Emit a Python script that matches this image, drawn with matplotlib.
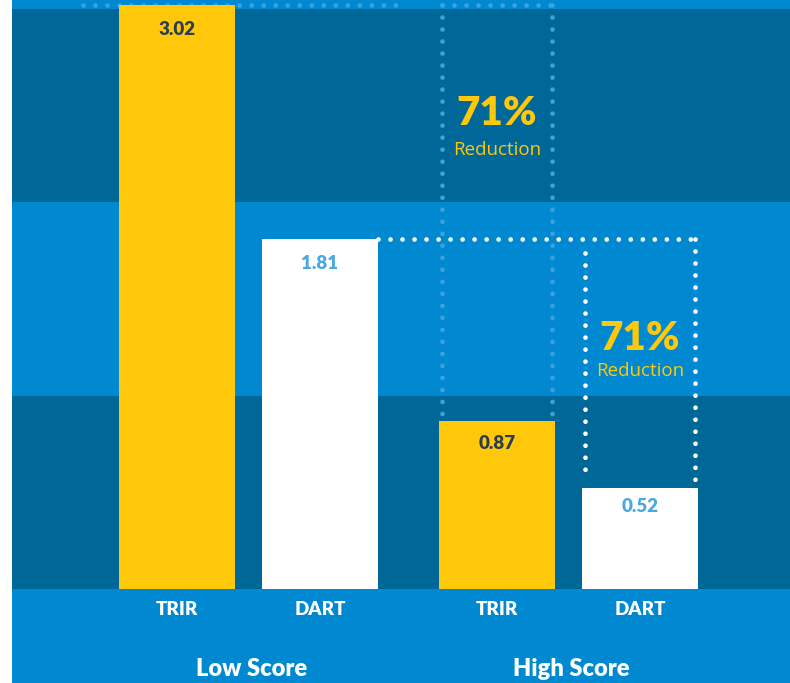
import matplotlib
matplotlib.use("Agg")
import matplotlib.pyplot as plt
from matplotlib import font_manager

# ---- data ----
groups = ["Low Score", "High Score"]
series = ["TRIR", "DART"]
low_vals = [3.02, 1.81]
high_vals = [0.87, 0.52]
value_labels = ["3.02", "1.81", "0.87", "0.52"]
reduction_text = "71%"
reduction_sub = "Reduction"

# ---- style ----
LIGHT = "#0089D0"
DARK = "#006899"
GOLD = "#FFC80B"
WHITE = "#FFFFFF"
TXT_DARK = "#2F3D4A"
TXT_BLUE = "#4AA8E0"
DOT_BLUE = "#3FA0DC"
label_offsets_px = [24, 24, 22.5, 18]

plt.rcParams['font.family'] = ['Lato', 'DejaVu Sans']
plt.rcParams['lines.scale_dashes'] = False

lato = sorted({(f.name, f.weight) for f in font_manager.fontManager.ttflist if 'Lato' in f.name})
print(lato)

fig = plt.figure(figsize=(7.9, 6.83), dpi=100, facecolor="white")
ax = fig.add_axes([12/790, 0, 1 - 12/790, 1])
ax.set_facecolor(LIGHT)

gap = 2.238
width = 0.811
group_x = [0, gap]
offs = [-0.5, 0.5]
ax.set_xlim(-1.654, 3.787)
ax.set_ylim(-0.486, 3.046)

for lo, hi in [(0, 1), (2, 3)]:
    ax.axhspan(lo, hi, color=DARK, zorder=0, lw=0)

vals = [low_vals, high_vals]
colors = [GOLD, WHITE]
txtcols = [TXT_DARK, TXT_BLUE]
xs = {}
k = 0
for gi, g in enumerate(groups):
    for si, s in enumerate(series):
        x = group_x[gi] + offs[si]
        v = vals[gi][si]
        xs[(gi, si)] = x
        ax.bar(x, v, width=width, color=colors[si], zorder=3, lw=0)
        ax.annotate(value_labels[k], (x, v), xytext=(0, -label_offsets_px[k] * 0.72),
                    textcoords="offset points",
                    ha="center", va="center", fontsize=13.5, fontweight="heavy",
                    color=txtcols[si], zorder=5)
        ax.text(x, -0.108, s, ha="center", va="center", fontsize=13.5, fontweight="heavy",
                color=WHITE)
        k += 1
    ax.text(group_x[gi] + 0.02, -0.413, g, ha="center", va="center", fontsize=17,
            fontweight="heavy", color=WHITE)

dot_kw = dict(linestyle=(0, (0.01, 8.64)), dash_capstyle="round", linewidth=3.4)
inset = 0.022
# light-blue dotted box: Low TRIR -> High TRIR
xl = xs[(1, 0)] - width / 2 + inset
xr = xs[(1, 0)] + width / 2 - inset
top = low_vals[0]
ax.plot([-1.157, 1.031], [top, top], color=DOT_BLUE, zorder=2, **dot_kw)
ax.plot([xl, xr], [top, top], color=DOT_BLUE, zorder=2, **dot_kw)
ax.plot([xl, xl], [top, high_vals[0] + 0.035], color=DOT_BLUE, zorder=2, **dot_kw)
ax.plot([xr, xr], [top, high_vals[0] + 0.025], color=DOT_BLUE, zorder=2, **dot_kw)

# white dotted box: Low DART -> High DART
dl = xs[(1, 1)] - width / 2 + inset
dr = xs[(1, 1)] + width / 2 - inset
mid = low_vals[1]
ax.plot([xs[(0, 1)] + width / 2, dr], [mid, mid], color=WHITE, zorder=4, **dot_kw)
ax.plot([dl, dl], [mid - 0.07, high_vals[1] + 0.06], color=WHITE, zorder=4, **dot_kw)
ax.plot([dr, dr], [mid, high_vals[1] + 0.025], color=WHITE, zorder=4, **dot_kw)

# reduction annotations
for cx, y1, y2 in [(xs[(1, 0)], 2.461, 2.27), (xs[(1, 1)], 1.298, 1.127)]:
    ax.text(cx, y1, reduction_text, ha="center", va="center", fontsize=29,
            fontweight="heavy", color=GOLD, zorder=6)
    ax.text(cx, y2, reduction_sub, ha="center", va="center", fontsize=13.5,
            family=['Open Sans', 'DejaVu Sans'], color=GOLD, zorder=6)

ax.set_xticks([])
ax.set_yticks([])
for sp in ax.spines.values():
    sp.set_visible(False)

fig.savefig("out.png", dpi=100, facecolor="white")
